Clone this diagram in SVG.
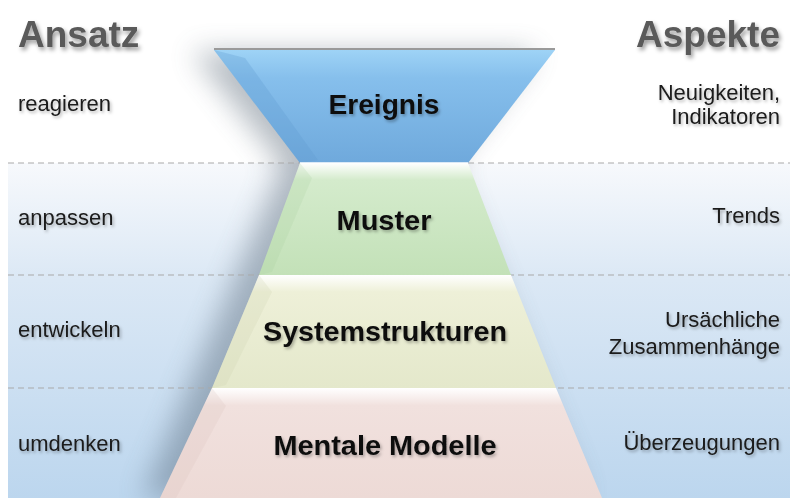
<svg xmlns="http://www.w3.org/2000/svg" width="794" height="498" viewBox="0 0 794 498">
<defs>
<style>
.title{font-family:"Liberation Sans",Arial,sans-serif;font-weight:bold;font-size:37px;fill:#5a5a5a;}
.lbl{font-family:"Liberation Sans",Arial,sans-serif;font-size:22px;fill:#1a1a1a;}
.ctr{font-family:"Liberation Sans",Arial,sans-serif;font-weight:bold;font-size:27px;fill:#111;text-anchor:middle;}
.r{text-anchor:end;}
.dash{stroke:#a9a9a9;stroke-width:1;stroke-dasharray:6 4;fill:none;}
</style>
<filter id="ts" x="-20%" y="-40%" width="140%" height="180%">
<feDropShadow dx="2" dy="3" stdDeviation="2" flood-color="#000" flood-opacity="0.4"/>
</filter>
<filter id="ts2" x="-20%" y="-40%" width="140%" height="180%">
<feDropShadow dx="1.5" dy="2" stdDeviation="1.5" flood-color="#000" flood-opacity="0.3"/>
</filter>
<filter id="blur" x="-30%" y="-30%" width="160%" height="160%">
<feGaussianBlur stdDeviation="14"/>
</filter>
<linearGradient id="bg" x1="0" y1="0" x2="0" y2="1">
<stop offset="0" stop-color="#f7f9fc"/>
<stop offset="0.35" stop-color="#dbe8f5"/>
<stop offset="1" stop-color="#bcd6ee"/>
</linearGradient>
<linearGradient id="gE" x1="0" y1="0" x2="0" y2="1">
<stop offset="0" stop-color="#9ed3f6"/>
<stop offset="0.25" stop-color="#86bfec"/>
<stop offset="1" stop-color="#6fa9dc"/>
</linearGradient>
<linearGradient id="gM" x1="0" y1="0" x2="0" y2="1">
<stop offset="0" stop-color="#ffffff"/>
<stop offset="0.15" stop-color="#d4ebcc"/>
<stop offset="1" stop-color="#c3e1b8"/>
</linearGradient>
<linearGradient id="gS" x1="0" y1="0" x2="0" y2="1">
<stop offset="0" stop-color="#ffffff"/>
<stop offset="0.15" stop-color="#eef0d8"/>
<stop offset="1" stop-color="#e4e8cb"/>
</linearGradient>
<linearGradient id="gMM" x1="0" y1="0" x2="0" y2="1">
<stop offset="0" stop-color="#ffffff"/>
<stop offset="0.16" stop-color="#f1e1de"/>
<stop offset="1" stop-color="#eddad6"/>
</linearGradient>
</defs>

<rect x="0" y="0" width="794" height="498" fill="#ffffff"/>
<rect x="8" y="163" width="782" height="335" fill="url(#bg)"/>

<!-- pyramid shadow -->
<polygon points="200,52 545,52 458,165 592,498 150,498 290,165" fill="#4a5a6a" opacity="0.4" filter="url(#blur)" transform="translate(-8,0)"/>

<g id="dividers">
<line class="dash" x1="8" y1="163" x2="790" y2="163"/>
<line class="dash" x1="8" y1="275" x2="790" y2="275"/>
<line class="dash" x1="8" y1="388" x2="790" y2="388"/>
</g>

<g id="node-ereignis">
<line x1="214" y1="49" x2="555" y2="49" stroke="#9a9a9a" stroke-width="2"/>
<polygon points="214,50 555,50 468,163 300,163" fill="url(#gE)"/>
<polygon points="214,50 245,58 318,160 300,163" fill="#5f9bd2" opacity="0.3"/>
<line x1="300" y1="163" x2="468" y2="163" stroke="#ffffff" stroke-width="1.5"/>
<text class="ctr" x="384" y="114" textLength="111" lengthAdjust="spacingAndGlyphs" filter="url(#ts2)">Ereignis</text>
</g>

<g id="node-muster">
<polygon points="300,163 468,163 511,275 259,275" fill="url(#gM)"/>
<polygon points="300,163 312,178 272,272 259,275" fill="#a6cf99" opacity="0.2"/>
<text class="ctr" x="384" y="230" textLength="95" lengthAdjust="spacingAndGlyphs" filter="url(#ts2)">Muster</text>
</g>

<g id="node-systemstrukturen">
<polygon points="259,275 511,275 556,388 212,388" fill="url(#gS)"/>
<polygon points="259,275 272,292 226,385 212,388" fill="#c9cda8" opacity="0.2"/>
<text class="ctr" x="385" y="341" textLength="244" lengthAdjust="spacingAndGlyphs" filter="url(#ts2)">Systemstrukturen</text>
</g>

<g id="node-mentale-modelle">
<polygon points="212,388 556,388 602,498 160,498" fill="url(#gMM)"/>
<polygon points="212,388 226,406 176,498 160,498" fill="#d9bfba" opacity="0.2"/>
<text class="ctr" x="385" y="455" textLength="223" lengthAdjust="spacingAndGlyphs" filter="url(#ts2)">Mentale Modelle</text>
</g>

<g id="header-ansatz">
<text class="title" x="18" y="47" filter="url(#ts)">Ansatz</text>
</g>
<g id="header-aspekte">
<text class="title r" x="780" y="47" filter="url(#ts)">Aspekte</text>
</g>

<g id="ansatz-labels">
<text class="lbl" x="18" y="111" filter="url(#ts2)">reagieren</text>
<text class="lbl" x="18" y="225" filter="url(#ts2)">anpassen</text>
<text class="lbl" x="18" y="337" filter="url(#ts2)">entwickeln</text>
<text class="lbl" x="18" y="451" filter="url(#ts2)">umdenken</text>
</g>

<g id="aspekte-labels">
<text class="lbl r" x="780" y="100" filter="url(#ts2)">Neuigkeiten,</text>
<text class="lbl r" x="780" y="124" filter="url(#ts2)">Indikatoren</text>
<text class="lbl r" x="780" y="223" filter="url(#ts2)">Trends</text>
<text class="lbl r" x="780" y="327" filter="url(#ts2)">Ursächliche</text>
<text class="lbl r" x="780" y="354" filter="url(#ts2)">Zusammenhänge</text>
<text class="lbl r" x="780" y="450" filter="url(#ts2)">Überzeugungen</text>
</g>
</svg>
